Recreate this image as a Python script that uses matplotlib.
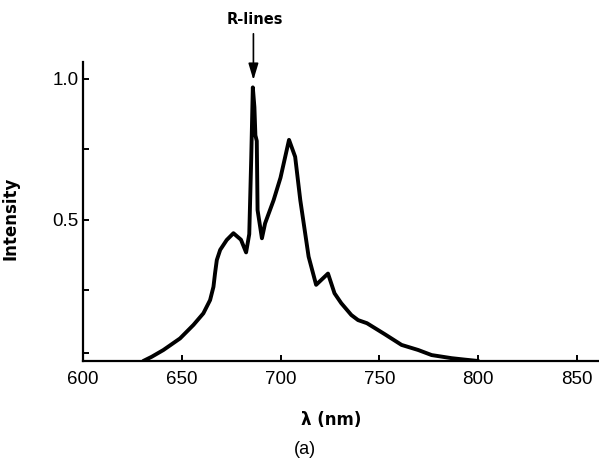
import matplotlib
matplotlib.use("Agg")
import matplotlib.pyplot as plt

# Data
wavelength_nm = [630.6, 634.9, 640.8, 649.2, 656, 661, 664.4, 666.1, 666.9, 667.8, 669.5,
                 672.8, 676.2, 680, 682.6, 684.2, 685.2, 686.0, 686.8, 687.3, 688.0, 688.4,
                 689.7, 690.6, 692.2, 696.5, 700, 704.3, 707.4, 710, 714.2, 718, 721, 724,
                 727.3, 730.7, 735.8, 739.2, 743.7, 752.7, 761.2, 769.6, 776.4, 786.5, 793,
                 800]
intensity = [0, 0.015, 0.039, 0.08, 0.128, 0.169, 0.216, 0.263, 0.311, 0.358, 0.394,
             0.429, 0.453, 0.43, 0.385, 0.45, 0.72, 0.97, 0.90, 0.80, 0.78, 0.535,
             0.476, 0.435, 0.488, 0.57, 0.65, 0.784, 0.724, 0.57, 0.37, 0.27, 0.29, 0.31,
             0.24, 0.205, 0.163, 0.145, 0.134, 0.095, 0.057, 0.039, 0.021, 0.01, 0.005,
             0]

x_ticks = [600, 650, 700, 750, 800, 850]
x_tick_labels = ["600", "650", "700", "750", "800", "850"]
y_major_ticks = [0.5, 1.0]
y_major_labels = ["0.5", "1.0"]
y_minor_ticks = [0.03, 0.25, 0.75]
arrow_target = (686.3, 0.996)

fig = plt.figure(figsize=(5.99, 4.59), dpi=100)
ax = fig.add_axes([82.7 / 599, (459 - 361) / 459, (599 - 82.7) / 599, (361 - 62) / 459])

ax.plot(wavelength_nm, intensity, color="black", lw=2.8, solid_joinstyle="round",
        solid_capstyle="round")

ax.set_xlim(600, 861)
ax.set_ylim(0, 1.06)

for s in ["top", "right"]:
    ax.spines[s].set_visible(False)
for s in ["left", "bottom"]:
    ax.spines[s].set_linewidth(1.6)
    ax.spines[s].set_color("black")

tick_font = dict(family=["Liberation Sans", "DejaVu Sans"], size=13.5)
ax.set_xticks(x_ticks)
ax.set_xticklabels(x_tick_labels, fontdict=tick_font)
ax.set_yticks(y_major_ticks)
ax.set_yticklabels(y_major_labels, fontdict=tick_font)
ax.set_yticks(y_minor_ticks, minor=True)
ax.tick_params(axis="both", which="both", direction="in", length=4, width=1.4,
               color="black")
ax.tick_params(axis="x", pad=7)
ax.tick_params(axis="y", pad=3)

ax.set_xlabel("λ (nm)", fontsize=12, fontweight="bold", family="DejaVu Sans")
ax.xaxis.set_label_coords((331 - 82.7) / (599 - 82.7), -(411 - 361) / (361 - 62))
ax.set_ylabel("Intensity", fontsize=12, fontweight="bold", family="DejaVu Sans")
ax.yaxis.set_label_coords(-(82.7 - 20) / (599 - 82.7), (361 - 218) / (361 - 62))

# R-lines arrow and label
ax.annotate("", xy=arrow_target, xytext=(arrow_target[0], 1.16),
            arrowprops=dict(arrowstyle="-|>,head_length=1.0,head_width=0.3",
                            lw=1.2, color="black", shrinkA=0, shrinkB=0),
            annotation_clip=False)
ax.text(687.2, 1.21, "R-lines", ha="center", va="center", fontsize=10.5,
        fontweight="bold", family="DejaVu Sans", clip_on=False)

fig.text(305 / 599, 1 - 449 / 459, "(a)", ha="center", va="center", fontsize=13,
         family=["Liberation Sans", "DejaVu Sans"])

fig.savefig("out.png", dpi=100)
